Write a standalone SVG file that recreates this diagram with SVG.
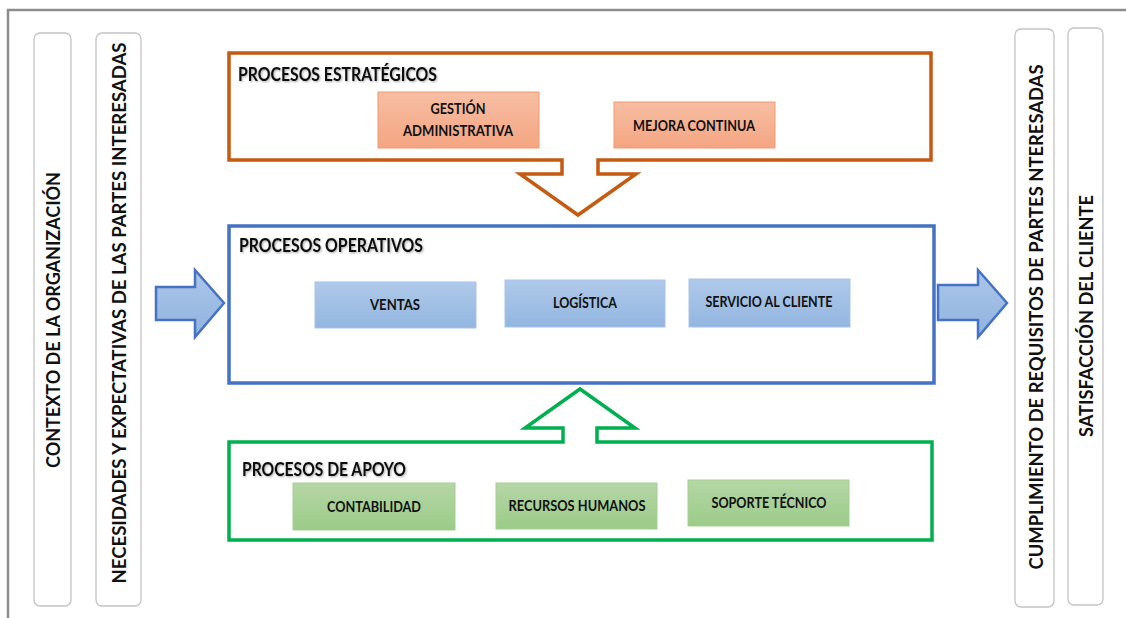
<svg xmlns="http://www.w3.org/2000/svg" width="1126" height="618" viewBox="0 0 1126 618">
  <defs>
    <linearGradient id="gOrange" x1="0" y1="0" x2="0" y2="1">
      <stop offset="0" stop-color="#f7bea3"/>
      <stop offset="1" stop-color="#f4a582"/>
    </linearGradient>
    <linearGradient id="gBlue" x1="0" y1="0" x2="0" y2="1">
      <stop offset="0" stop-color="#afc9e9"/>
      <stop offset="1" stop-color="#93b6e0"/>
    </linearGradient>
    <linearGradient id="gGreen" x1="0" y1="0" x2="0" y2="1">
      <stop offset="0" stop-color="#b5d6a6"/>
      <stop offset="1" stop-color="#9ccb89"/>
    </linearGradient>
    <linearGradient id="gArrow" x1="0" y1="0" x2="0" y2="1">
      <stop offset="0" stop-color="#adc6e8"/>
      <stop offset="1" stop-color="#8fb3e0"/>
    </linearGradient>
    <filter id="shadow" x="-5%" y="-30%" width="110%" height="160%">
      <feDropShadow dx="1" dy="1" stdDeviation="0.8" flood-color="#000" flood-opacity="0.35"/>
    </filter>
  </defs>
  <style>
    .frame { fill: none; stroke: #8c8c8c; stroke-width: 2.5; }
    .side { fill: #fff; stroke: #c4c4c4; stroke-width: 1.3; }
    .vtext { font-family: Lato, "Liberation Sans", sans-serif; font-weight: bold; font-size: 18.5px; fill: #111; text-anchor: middle; }
    .head { font-family: Lato, "Liberation Sans", sans-serif; font-weight: bold; font-size: 18px; fill: #111; filter: url(#shadow); }
    .lbl { font-family: Lato, "Liberation Sans", sans-serif; font-weight: bold; font-size: 14.5px; fill: #111; text-anchor: middle; }
    .orangeBox { fill: url(#gOrange); stroke: #f29a6e; stroke-width: 1; }
    .blueBox { fill: url(#gBlue); stroke: #a9c3e6; stroke-width: 1; }
    .greenBox { fill: url(#gGreen); stroke: #a3cf90; stroke-width: 1; }
    .sideArrow { fill: url(#gArrow); stroke: #4472c4; stroke-width: 2.5; stroke-linejoin: miter; }
  </style>

  <rect width="1126" height="618" fill="#fff"/>

  <!-- page frame -->
  <path class="frame" d="M8,618 V10 H1126"/>

  <!-- left columns -->
  <g id="contexto">
    <rect class="side" x="34" y="33" width="37" height="573" rx="6"/>
    <text class="vtext" transform="translate(60,320) rotate(-90)" textLength="296" lengthAdjust="spacingAndGlyphs">CONTEXTO DE LA ORGANIZACIÓN</text>
  </g>
  <g id="necesidades">
    <rect class="side" x="96" y="33" width="45" height="573" rx="6"/>
    <text class="vtext" transform="translate(126,313) rotate(-90)" textLength="541" lengthAdjust="spacingAndGlyphs">NECESIDADES Y EXPECTATIVAS  DE LAS PARTES INTERESADAS</text>
  </g>

  <!-- right columns -->
  <g id="cumplimiento">
    <rect class="side" x="1015" y="29" width="39" height="578" rx="6"/>
    <text class="vtext" transform="translate(1043,317) rotate(-90)" textLength="505" lengthAdjust="spacingAndGlyphs">CUMPLIMIENTO DE REQUISITOS DE PARTES NTERESADAS</text>
  </g>
  <g id="satisfaccion">
    <rect class="side" x="1068" y="28" width="35" height="577" rx="6"/>
    <text class="vtext" transform="translate(1093,316) rotate(-90)" textLength="242" lengthAdjust="spacingAndGlyphs">SATISFACCIÓN  DEL CLIENTE</text>
  </g>

  <!-- strategic processes: frame merged with downward arrow -->
  <g id="estrategicos">
    <path d="M229,53 H931 V160 H598 V174 H636 L578,215 L520,174 H562 V160 H229 Z" fill="none" stroke="#c55a11" stroke-width="3.5" stroke-linejoin="miter"/>
    <text class="head" x="238" y="81" textLength="199" lengthAdjust="spacingAndGlyphs">PROCESOS ESTRATÉGICOS</text>
  </g>
  <g id="gestion">
    <rect class="orangeBox" x="378" y="92" width="161" height="56"/>
    <text class="lbl" x="458" y="114" textLength="55" lengthAdjust="spacingAndGlyphs">GESTIÓN</text>
    <text class="lbl" x="458" y="136" textLength="110" lengthAdjust="spacingAndGlyphs">ADMINISTRATIVA</text>
  </g>
  <g id="mejora">
    <rect class="orangeBox" x="614" y="102" width="161" height="46"/>
    <text class="lbl" x="694" y="131" textLength="122" lengthAdjust="spacingAndGlyphs">MEJORA CONTINUA</text>
  </g>

  <!-- operative processes -->
  <g id="operativos">
    <rect x="229" y="226" width="705" height="157" fill="none" stroke="#4472c4" stroke-width="3.5"/>
    <text class="head" x="239" y="252" textLength="184" lengthAdjust="spacingAndGlyphs">PROCESOS OPERATIVOS</text>
  </g>
  <g id="ventas">
    <rect class="blueBox" x="315" y="282" width="161" height="46"/>
    <text class="lbl" x="395" y="310" textLength="50" lengthAdjust="spacingAndGlyphs">VENTAS</text>
  </g>
  <g id="logistica">
    <rect class="blueBox" x="505" y="280" width="160" height="47"/>
    <text class="lbl" x="585" y="308" textLength="64" lengthAdjust="spacingAndGlyphs">LOGÍSTICA</text>
  </g>
  <g id="servicio">
    <rect class="blueBox" x="689" y="279" width="161" height="48"/>
    <text class="lbl" x="769" y="307" textLength="127" lengthAdjust="spacingAndGlyphs">SERVICIO AL CLIENTE</text>
  </g>

  <!-- support processes: frame merged with upward arrow -->
  <g id="apoyo">
    <path d="M229,442 H563 V428 H525 L580,389 L635,428 H597 V442 H932 V540 H229 Z" fill="none" stroke="#00b050" stroke-width="3.5" stroke-linejoin="miter"/>
    <text class="head" x="242" y="476" textLength="164" lengthAdjust="spacingAndGlyphs">PROCESOS DE APOYO</text>
  </g>
  <g id="contabilidad">
    <rect class="greenBox" x="293" y="483" width="162" height="47"/>
    <text class="lbl" x="374" y="512" textLength="94" lengthAdjust="spacingAndGlyphs">CONTABILIDAD</text>
  </g>
  <g id="recursos">
    <rect class="greenBox" x="496" y="483" width="161" height="46"/>
    <text class="lbl" x="577" y="511" textLength="137" lengthAdjust="spacingAndGlyphs">RECURSOS HUMANOS</text>
  </g>
  <g id="soporte">
    <rect class="greenBox" x="688" y="480" width="161" height="46"/>
    <text class="lbl" x="769" y="508" textLength="115" lengthAdjust="spacingAndGlyphs">SOPORTE TÉCNICO</text>
  </g>

  <!-- flow arrows between the side columns and the operative block -->
  <g id="connectors">
    <path class="sideArrow" d="M156,287 H195 V270 L224,303 L195,337 V320 H156 Z"/>
    <path class="sideArrow" d="M938,285 H978 V270 L1007,303 L978,337 V320 H938 Z"/>
  </g>
</svg>
